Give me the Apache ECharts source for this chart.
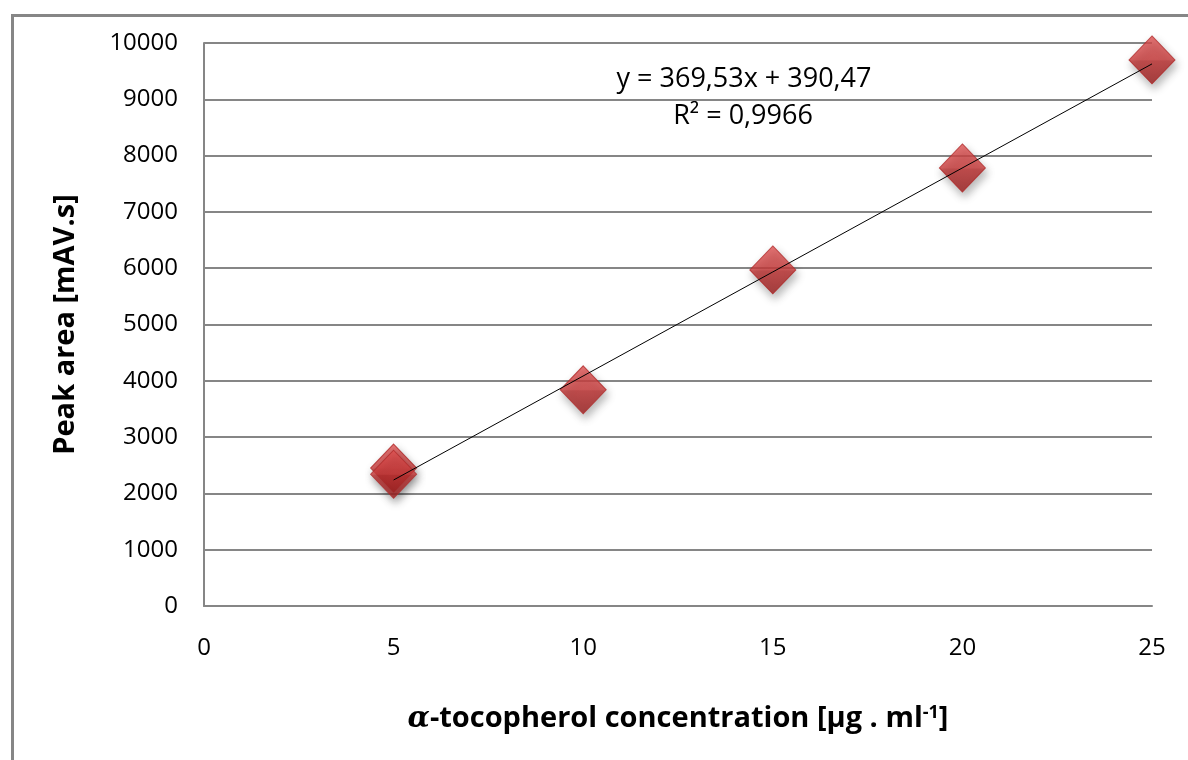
<!DOCTYPE html>
<html>
<head>
<meta charset="utf-8">
<script src="https://cdn.jsdelivr.net/npm/echarts@6/dist/echarts.min.js"></script>
<style>
html,body{margin:0;padding:0;background:#fff;}
#chart{width:1188px;height:760px;}
</style>
</head>
<body>
<div id="chart"></div>
<script>
// Data
const concentrations = [5, 5, 10, 15, 20, 25];
const peakAreas = [2450, 2340, 3840, 5970, 7780, 9700];
const slope = 369.53;
const intercept = 390.47;
const rSquared = '0,9966';
const xTicks = [0, 5, 10, 15, 20, 25];
const yMax = 10000;

const points = concentrations.map((c, i) => [c, peakAreas[i]]);
const xFitMin = Math.min(...concentrations);
const xFitMax = Math.max(...concentrations);
const fitLine = [[xFitMin, slope * xFitMin + intercept], [xFitMax, slope * xFitMax + intercept]];

const FONT = '"Open Sans", "Liberation Sans", sans-serif';
const chart = echarts.init(document.getElementById('chart'));
chart.setOption({
  animation: false,
  backgroundColor: '#ffffff',
  grid: {left: 204, right: 36, top: 43, bottom: 154},
  xAxis: {
    type: 'value', min: 0, max: 25, interval: 5,
    axisLine: {show: true, lineStyle: {color: '#868686', width: 2}},
    axisTick: {show: false},
    splitLine: {show: false},
    axisLabel: {color: '#000', fontFamily: FONT, fontSize: 24, margin: 30},
    name: '{a|α}{b|-tocopherol concentration [μg . ml}{s|-1}{b|]}',
    nameLocation: 'middle',
    nameGap: 98,
    nameTextStyle: {
      rich: {
        a: {fontFamily: '"DejaVu Serif", serif', fontStyle: 'italic', fontWeight: 'bold', fontSize: 29, color: '#000'},
        b: {fontFamily: FONT, fontWeight: 'bold', fontSize: 29, color: '#000'},
        s: {fontFamily: FONT, fontWeight: 'bold', fontSize: 18, color: '#000', verticalAlign: 'top', padding: [0, 0, 12, 0]}
      }
    }
  },
  yAxis: {
    type: 'value', min: 0, max: yMax, interval: 1000,
    axisLine: {show: true, lineStyle: {color: '#868686', width: 2}},
    axisTick: {show: false},
    splitLine: {show: true, lineStyle: {color: '#868686', width: 2}},
    axisLabel: {color: '#000', fontFamily: FONT, fontSize: 24, margin: 26, formatter: v => String(v)},
    name: 'Peak area [mAV.s]',
    nameLocation: 'middle',
    nameGap: 124,
    nameTextStyle: {fontFamily: FONT, fontWeight: 'bold', fontSize: 29, color: '#000'}
  },
  series: [
    {
      type: 'line',
      data: fitLine,
      symbol: 'none',
      lineStyle: {color: '#000', width: 1},
      z: 3
    },
    {
      type: 'scatter',
      data: points,
      symbol: 'diamond',
      symbolSize: [46, 48],
      itemStyle: {
        color: new echarts.graphic.LinearGradient(0, 0, 0, 1, [
          {offset: 0, color: '#e05252'},
          {offset: 0.5, color: '#cc3b3b'},
          {offset: 0.52, color: '#bd2f2f'},
          {offset: 1, color: '#9c1e1e'}
        ]),
        borderColor: '#b02a2a',
        borderWidth: 1,
        shadowColor: 'rgba(0,0,0,0.35)',
        shadowBlur: 8,
        shadowOffsetX: 2,
        shadowOffsetY: 5
      },
      z: 2
    }
  ],
  graphic: [
    {
      type: 'rect', left: 10, top: 13, silent: true,
      shape: {width: 1300, height: 900},
      style: {fill: 'none', stroke: '#868686', lineWidth: 3}
    },
    {
      type: 'text', silent: true, x: 744, y: 79,
      style: {text: 'y = ' + slope.toString().replace('.', ',') + 'x + ' + intercept.toString().replace('.', ','),
              font: '27px ' + FONT, fill: '#000', textAlign: 'center', textVerticalAlign: 'middle'}
    },
    {
      type: 'text', silent: true, x: 743, y: 116,
      style: {text: 'R² = ' + rSquared, font: '27px ' + FONT, fill: '#000', textAlign: 'center', textVerticalAlign: 'middle'}
    }
  ]
});
</script>
</body>
</html>
